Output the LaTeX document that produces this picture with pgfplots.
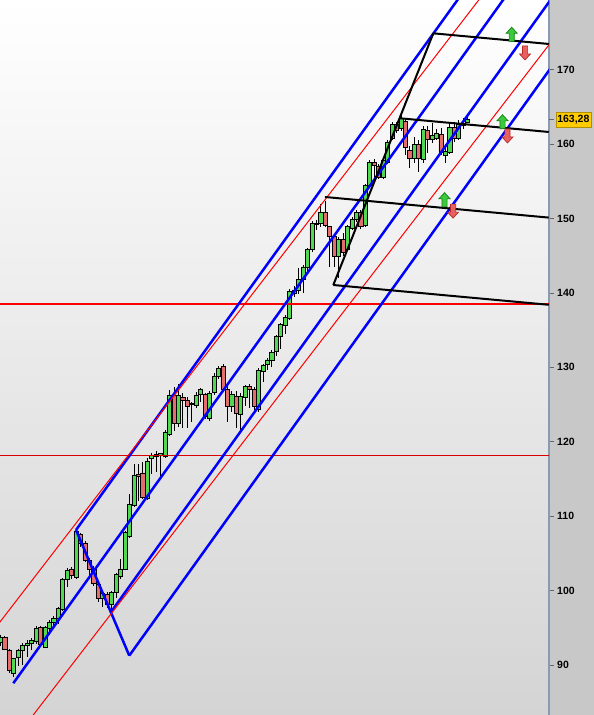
\documentclass[border=0pt]{standalone}
\usepackage{pgfplots}
\pgfplotsset{compat=1.18}
\usepackage{pgfplotstable}
\usepackage{fontspec}
\setmainfont{Liberation Sans}

\definecolor{candleup}{RGB}{80,216,80}
\definecolor{candledown}{RGB}{228,110,110}
\definecolor{chanblue}{RGB}{0,0,255}
\definecolor{strip}{RGB}{200,200,200}
\definecolor{axisline}{RGB}{138,154,178}
\definecolor{bgbottom}{RGB}{212,212,212}
\definecolor{lastbox}{RGB}{255,204,0}
\definecolor{arrgreen}{RGB}{60,200,60}
\definecolor{arrgreendk}{RGB}{20,130,20}
\definecolor{arrred}{RGB}{232,96,96}
\definecolor{arrreddk}{RGB}{180,40,40}

% daily candles: index, open, high, low, close
\pgfplotstableread{
i o h l c
0 93.0 94.0 92.6 93.7
1 93.7 93.9 92.0 92.1
2 92.0 92.1 88.9 89.2
3 88.9 91.0 88.4 90.9
4 91.0 92.2 89.8 92.0
5 92.0 93.0 90.0 92.6
6 92.65 93.3 91.0 92.93
7 92.9 93.6 92.0 93.3
8 93.1 95.2 92.8 94.9
9 95.0 95.2 92.5 92.7
10 92.4 95.3 92.3 95.1
11 94.9 96.0 94.0 95.7
12 95.7 96.6 95.0 96.2
13 96.2 97.8 95.5 97.6
14 97.5 101.7 97.3 101.5
15 101.5 103.0 100.5 102.7
16 102.9 103.2 101.5 102.0
17 101.8 108.0 101.6 107.9
18 107.5 107.8 105.8 106.4
19 106.4 106.6 103.8 104.1
20 104.1 104.4 102.0 102.8
21 102.8 103.3 100.6 101.0
22 100.8 101.0 98.5 99.0
23 99.0 100.0 97.8 99.6
24 99.5 99.8 97.6 98.1
25 98.1 100.0 97.2 99.8
26 99.8 102.4 99.0 102.2
27 101.9 104.3 101.5 102.9
28 102.9 108.0 102.7 107.8
29 107.3 113.0 107.0 111.6
30 111.4 117.0 111.2 115.5
31 115.6 117.0 112.0 115.4
32 115.8 117.3 112.3 112.5
33 112.4 117.8 112.2 117.4
34 117.8 118.5 115.6 118.1
35 118.0 118.8 116.0 118.3
36 118.2 118.5 115.4 118.4
37 118.0 121.6 117.8 121.3
38 121.0 127.0 120.8 126.2
39 126.2 127.3 121.5 122.5
40 122.5 127.8 122.0 126.2
41 126.0 126.5 121.9 125.6
42 125.6 126.0 121.9 124.7
43 125.0 125.3 122.7 125.2
44 124.9 126.7 124.5 126.2
45 126.3 127.2 125.3 127.0
46 126.4 126.6 123.0 123.4
47 123.2 126.8 122.8 126.5
48 126.6 129.2 126.3 128.8
49 128.8 130.2 128.5 129.9
50 130.1 130.4 126.8 127.1
51 127.0 127.8 122.7 124.8
52 124.7 126.8 124.0 126.3
53 126.1 126.8 121.9 123.8
54 123.7 126.6 121.2 126.1
55 125.9 127.6 124.8 127.4
56 127.4 127.7 124.5 127.1
57 127.0 127.4 124.3 124.8
58 124.3 129.9 124.0 129.6
59 129.5 130.5 128.0 130.2
60 130.4 131.3 129.6 131.0
61 130.9 132.3 130.1 132.0
62 132.1 134.4 131.5 134.1
63 134.2 136.0 132.5 135.8
64 135.7 137.0 134.5 136.7
65 136.6 140.6 136.3 140.2
66 140.0 141.0 139.5 140.4
67 140.4 143.3 139.8 141.8
68 141.8 143.8 140.0 143.5
69 143.5 146.0 142.8 145.8
70 145.8 149.7 145.5 149.4
71 149.2 149.8 148.5 149.4
72 149.4 152.0 148.8 150.8
73 150.8 152.3 148.9 149.1
74 148.9 149.0 143.5 147.6
75 147.6 147.8 143.5 144.9
76 144.9 147.5 142.0 147.2
77 147.2 148.0 145.0 145.4
78 145.8 149.2 145.6 148.9
79 148.7 150.2 148.4 149.9
80 149.9 151.2 149.6 150.8
81 150.8 151.1 148.6 149.0
82 149.1 154.6 148.8 154.4
83 154.4 157.9 154.1 157.6
84 157.6 158.0 155.3 157.2
85 157.0 157.3 155.3 155.6
86 155.6 158.2 155.3 157.8
87 157.6 160.6 157.3 160.3
88 160.8 163.0 160.5 162.6
89 162.6 163.0 161.5 161.9
90 162.1 164.0 161.8 163.5
91 163.1 163.5 158.5 159.5
92 159.2 159.8 156.8 158.1
93 158.1 161.0 157.5 160.0
94 160.0 160.5 156.3 158.1
95 158.0 162.5 157.5 162.0
96 161.8 162.5 158.8 160.7
97 160.7 162.8 160.2 161.2
98 160.8 162.0 160.5 161.4
99 161.3 162.2 158.5 158.9
100 158.5 160.0 157.5 159.0
101 158.9 162.8 158.7 162.2
102 162.2 163.0 160.3 160.8
103 160.8 163.2 160.5 162.7
104 162.5 163.5 162.0 162.8
105 162.95 163.6 162.8 163.28
}\ohlc

\pgfdeclareplotmark{arrup}{%
  \pgfpathmoveto{\pgfqpoint{0pt}{7pt}}%
  \pgfpathlineto{\pgfqpoint{5.5pt}{1pt}}%
  \pgfpathlineto{\pgfqpoint{2.6pt}{1pt}}%
  \pgfpathlineto{\pgfqpoint{2.6pt}{-7pt}}%
  \pgfpathlineto{\pgfqpoint{-2.6pt}{-7pt}}%
  \pgfpathlineto{\pgfqpoint{-2.6pt}{1pt}}%
  \pgfpathlineto{\pgfqpoint{-5.5pt}{1pt}}%
  \pgfpathclose
  \pgfusepathqfillstroke}
\pgfdeclareplotmark{arrdown}{%
  \pgfpathmoveto{\pgfqpoint{0pt}{-7pt}}%
  \pgfpathlineto{\pgfqpoint{5.5pt}{-1pt}}%
  \pgfpathlineto{\pgfqpoint{2.6pt}{-1pt}}%
  \pgfpathlineto{\pgfqpoint{2.6pt}{7pt}}%
  \pgfpathlineto{\pgfqpoint{-2.6pt}{7pt}}%
  \pgfpathlineto{\pgfqpoint{-2.6pt}{-1pt}}%
  \pgfpathlineto{\pgfqpoint{-5.5pt}{-1pt}}%
  \pgfpathclose
  \pgfusepathqfillstroke}

\pgfplotsset{chartbox/.style={scale only axis, width=549pt, height=715pt,
  xmin=-0.112, xmax=123.26, ymin=83.27, ymax=179.38,
  at={(0,0)}, anchor=south west}}

\begin{document}
\begin{tikzpicture}
\useasboundingbox (0,0) rectangle (594pt,715pt);
\clip (0,0) rectangle (594pt,715pt);
\shade[top color=white, bottom color=bgbottom] (0,0) rectangle (549pt,715pt);
\fill[strip] (549pt,0) rectangle (594pt,715pt);

% wicks
\begin{axis}[chartbox, hide axis]
\addplot [draw=none, mark=none, error bars/.cd, y dir=both, y explicit, error mark=none,
  error bar style={draw=black, line width=0.9pt}]
  table [x=i, y expr={(\thisrow{h}+\thisrow{l})/2},
    y error expr={(\thisrow{h}-\thisrow{l})/2}] {\ohlc};
\end{axis}

% bodies
\begin{axis}[chartbox, hide axis, ybar stacked, bar width=4.1pt]
\addplot [draw=none, fill=none]
  table [x=i, y expr={min(\thisrow{o},\thisrow{c})}] {\ohlc};
\addplot [draw=black, line width=0.8pt, fill=candleup]
  table [x=i, y expr={max(\thisrow{c}-\thisrow{o},0)}] {\ohlc};
\addplot [draw=black, line width=0.8pt, fill=candledown]
  table [x=i, y expr={max(\thisrow{o}-\thisrow{c},0)}] {\ohlc};
\end{axis}

% drawing tools and price scale
\begin{axis}[chartbox, clip mode=individual,
  axis x line=none, axis y line*=right,
  y axis line style={draw=axisline, line width=1.5pt},
  xtick=\empty, ytick={90,100,...,170},
  extra y ticks={163.28}, extra y tick labels={},
  tick align=outside, major tick length=4.5pt,
  ytick style={draw=black!60, line width=0.8pt},
  yticklabel style={font=\fontsize{10.5}{12}\selectfont\bfseries, anchor=west, inner sep=0pt, xshift=3.5pt},
  /pgf/number format/assume math mode=true]
% red horizontal levels
\addplot [red, line width=1.3pt] coordinates {(-1,138.52) (124,138.52)};
\addplot [red!85!black, line width=0.8pt] coordinates {(-1,118.22) (124,118.22)};
% blue pitchfork
\addplot [chanblue, line width=2.5pt] coordinates {(2.88,87.54) (130,193.61)};
\addplot [chanblue, line width=2.5pt] coordinates {(16.97,108.14) (110,185.45)};
\addplot [chanblue, line width=2.5pt] coordinates {(16.97,108.14) (28.94,91.25)};
\addplot [chanblue, line width=2.5pt] coordinates {(24.8,97.09) (130,184.72)};
\addplot [chanblue, line width=2.5pt] coordinates {(28.94,91.25) (130,175.53)};
% red channel
\addplot [red, line width=1pt] coordinates {(-2,94.31) (110,181.34)};
\addplot [red, line width=1pt] coordinates {(5,81.44) (130,178.6)};
% black fan
\addplot [black, line width=2pt] coordinates {(74.79,141.07) (97.26,174.9)};
\addplot [black, line width=2pt] coordinates {(74.79,141.07) (123.2,138.41)};
\addplot [black, line width=2pt] coordinates {(72.92,152.9) (123.2,150.13)};
\addplot [black, line width=2pt] coordinates {(89.78,163.48) (123.2,161.64)};
\addplot [black, line width=2pt] coordinates {(97.26,174.9) (123.2,173.47)};
% alert arrows
\addplot [only marks, mark=arrup, mark options={fill=arrgreen, draw=arrgreendk, line width=0.7pt}]
  coordinates {(114.88,174.78) (112.81,163.02) (99.78,152.54)};
\addplot [only marks, mark=arrdown, mark options={fill=arrred, draw=arrreddk, line width=0.7pt}]
  coordinates {(117.87,172.26) (113.93,161.1) (101.7,151.0)};
% last price and cut-off top label
\node [anchor=west, inner sep=0pt, font=\fontsize{10.5}{12}\selectfont\bfseries]
  at (axis cs:123.26,180) [xshift=8pt] {180};
\node [anchor=west, fill=lastbox, draw=lastbox!70!black, line width=0.6pt,
  inner xsep=1.5pt, inner ysep=3pt, font=\fontsize{10.5}{12}\selectfont\bfseries]
  at (axis cs:123.26,163.28) [xshift=6.5pt] {163,28};
\end{axis}
\end{tikzpicture}
\end{document}
